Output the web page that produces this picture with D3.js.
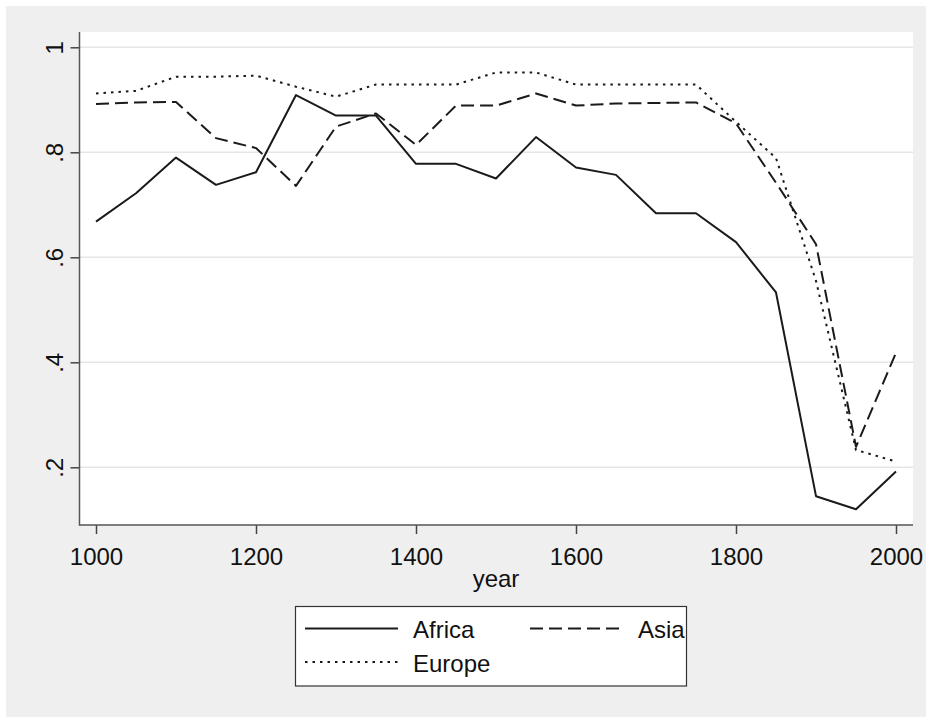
<!DOCTYPE html>
<html>
<head>
<meta charset="utf-8">
<script src="https://cdn.jsdelivr.net/npm/d3@7"></script>
<style>
  html, body { margin: 0; padding: 0; background: #ffffff; }
  svg { display: block; }
  text { font-family: "Liberation Sans", Arial, sans-serif; fill: #111; }
</style>
</head>
<body>
<svg id="chart" width="926" height="717"></svg>
<script>
const years = [1000,1050,1100,1150,1200,1250,1300,1350,1400,1450,1500,1550,1600,1650,1700,1750,1800,1850,1900,1950,2000];
const africa = [0.668,0.722,0.790,0.738,0.762,0.909,0.870,0.870,0.778,0.778,0.750,0.829,0.771,0.757,0.684,0.684,0.629,0.533,0.145,0.120,0.192];
const asia   = [0.892,0.895,0.896,0.827,0.808,0.736,0.849,0.874,0.814,0.889,0.889,0.912,0.889,0.893,0.894,0.895,0.855,0.742,0.625,0.239,0.418];
const europe = [0.912,0.917,0.944,0.944,0.946,0.925,0.906,0.929,0.929,0.929,0.952,0.952,0.929,0.929,0.929,0.929,0.858,0.789,0.555,0.233,0.211];
const seriesNames = ["Africa","Asia","Europe"];
const xTicks = [1000,1200,1400,1600,1800,2000];
const yTicks = [0.2,0.4,0.6,0.8,1];
const yTickLabels = [".2",".4",".6",".8","1"];
const xTitle = "year";

const svg = d3.select("#chart");
const W = 926, H = 717;
const plot = {left: 79.5, right: 913, top: 32, bottom: 525};

// background
svg.append("rect").attr("x",6).attr("y",6).attr("width",W-6).attr("height",H-6).attr("fill","#efefef");
svg.append("rect").attr("x",plot.left).attr("y",plot.top)
  .attr("width",plot.right-plot.left).attr("height",plot.bottom-plot.top).attr("fill","#ffffff");

const x = d3.scaleLinear().domain([1000,2000]).range([96,896]);
const y = d3.scaleLinear().domain([0.2,1]).range([467.3,47.3]);

// grid
svg.append("g").selectAll("line").data(yTicks).join("line")
  .attr("x1",plot.left).attr("x2",plot.right)
  .attr("y1",d=>y(d)).attr("y2",d=>y(d))
  .attr("stroke","#e6e6e6").attr("stroke-width",1.6);

const FS = 24;
// y axis
const yAxis = d3.axisLeft(y).tickValues(yTicks).tickSize(9).tickPadding(0)
  .tickFormat((d,i)=>yTickLabels[i]);
const gy = svg.append("g").attr("transform",`translate(${plot.left},0)`).call(yAxis);
gy.select(".domain").remove();
gy.selectAll(".tick line").attr("stroke","#444").attr("stroke-width",1.5);
gy.selectAll(".tick text")
  .attr("font-size",FS).attr("fill","#111")
  .attr("text-anchor","middle")
  .attr("x",0).attr("dy",0)
  .attr("transform","translate(-17,0) rotate(-90)");
svg.append("line").attr("x1",plot.left).attr("x2",plot.left)
  .attr("y1",plot.top).attr("y2",plot.bottom+0.75)
  .attr("stroke","#555").attr("stroke-width",1.5);

// x axis
const xAxis = d3.axisBottom(x).tickValues(xTicks).tickSize(9).tickPadding(12)
  .tickFormat(d3.format("d"));
const gx = svg.append("g").attr("transform",`translate(0,${plot.bottom})`).call(xAxis);
gx.select(".domain").remove();
gx.selectAll(".tick line").attr("stroke","#444").attr("stroke-width",1.5);
gx.selectAll(".tick text").attr("font-size",FS).attr("fill","#111")
  .attr("dy",0).attr("y",40);
svg.append("line").attr("x1",plot.left).attr("x2",plot.right)
  .attr("y1",plot.bottom).attr("y2",plot.bottom)
  .attr("stroke","#555").attr("stroke-width",1.5);

svg.append("text").attr("x",496).attr("y",587).attr("text-anchor","middle")
  .attr("font-size",FS).text(xTitle);

// lines
const styles = {
  Africa: {dash: null},
  Asia:   {dash: "13,6"},
  Europe: {dash: "2.5,5"}
};
const dataMap = {Africa: africa, Asia: asia, Europe: europe};
const line = d3.line().x(d=>x(d[0])).y(d=>y(d[1]));
seriesNames.forEach(name=>{
  const pts = years.map((yr,i)=>[yr, dataMap[name][i]]);
  svg.append("path").datum(pts).attr("d",line)
    .attr("fill","none").attr("stroke","#1a1a1a").attr("stroke-width",2)
    .attr("stroke-linejoin","round")
    .attr("stroke-dasharray",styles[name].dash);
});

// legend
const lg = svg.append("g");
lg.append("rect").attr("x",295.5).attr("y",606.5).attr("width",391).attr("height",79.5)
  .attr("fill","#fff").attr("stroke","#333").attr("stroke-width",1.2);
const legendItems = [
  {name:"Africa", lx:305, tx:413, ly:628.5, ty:638},
  {name:"Asia",   lx:530, tx:638, ly:628.5, ty:638},
  {name:"Europe", lx:305, tx:413, ly:662, ty:672}
];
legendItems.forEach(it=>{
  lg.append("line").attr("x1",it.lx).attr("x2",it.lx+93)
    .attr("y1",it.ly).attr("y2",it.ly)
    .attr("stroke","#1a1a1a").attr("stroke-width",2)
    .attr("stroke-dasharray",styles[it.name].dash);
  lg.append("text").attr("x",it.tx).attr("y",it.ty).attr("font-size",FS).text(it.name);
});
</script>
</body>
</html>
